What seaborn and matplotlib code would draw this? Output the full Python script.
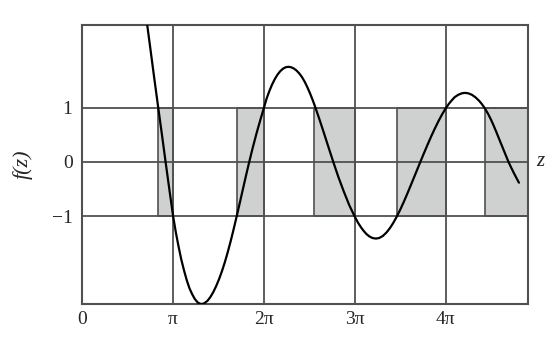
import matplotlib
matplotlib.use("Agg")
import matplotlib.pyplot as plt
import seaborn as sns
import pandas as pd

# curve: z in units of pi, f(z)
z_over_pi = [0.715, 0.75, 0.79, 0.836, 0.877, 0.917, 0.958, 1.000, 1.03, 1.06,
             1.09, 1.12, 1.15, 1.18, 1.21, 1.24, 1.27, 1.295, 1.314, 1.34,
             1.378, 1.41, 1.442, 1.474, 1.506, 1.538, 1.570, 1.60, 1.635, 1.665,
             1.70, 1.735, 1.77, 1.80, 1.835, 1.875, 1.92, 1.96, 2.00, 2.03,
             2.06, 2.09, 2.12, 2.15, 2.18, 2.21, 2.24, 2.268, 2.30, 2.33,
             2.36, 2.39, 2.42, 2.452, 2.48, 2.506, 2.533, 2.56, 2.61, 2.66,
             2.71, 2.763, 2.82, 2.88, 2.94, 3.00, 3.038, 3.07, 3.10, 3.13,
             3.16, 3.195, 3.233, 3.27, 3.31, 3.35, 3.388, 3.425, 3.461, 3.50,
             3.54, 3.58, 3.626, 3.67, 3.718, 3.76, 3.80, 3.847, 3.88, 3.92,
             3.96, 4.00, 4.035, 4.067, 4.10, 4.14, 4.18, 4.214, 4.25, 4.29,
             4.33, 4.371, 4.40, 4.434, 4.47, 4.50, 4.53, 4.56, 4.60, 4.64,
             4.69, 4.72, 4.75, 4.78, 4.808]
f_values = [2.52, 2.08, 1.57, 1.00, 0.50, 0.00, -0.50, -1.00, -1.30, -1.56,
            -1.80, -2.00, -2.18, -2.33, -2.44, -2.53, -2.59, -2.615, -2.62, -2.61,
            -2.562, -2.493, -2.402, -2.291, -2.162, -2.015, -1.848, -1.675, -1.455, -1.252,
            -1.005, -0.751, -0.494, -0.274, -0.025, 0.247, 0.533, 0.768, 0.995, 1.167,
            1.304, 1.424, 1.524, 1.607, 1.670, 1.715, 1.742, 1.750, 1.742, 1.718,
            1.680, 1.626, 1.558, 1.465, 1.367, 1.268, 1.155, 1.032, 0.789, 0.534,
            0.274, 0.001, -0.281, -0.550, -0.800, -1.010, -1.128, -1.210, -1.277, -1.333,
            -1.374, -1.404, -1.415, -1.404, -1.366, -1.302, -1.220, -1.124, -1.016, -0.885,
            -0.739, -0.583, -0.397, -0.217, -0.020, 0.150, 0.308, 0.487, 0.606, 0.742,
            0.868, 0.980, 1.065, 1.130, 1.190, 1.235, 1.262, 1.270, 1.262, 1.234,
            1.187, 1.121, 1.063, 0.981, 0.878, 0.778, 0.665, 0.545, 0.379, 0.215,
            0.010, -0.098, -0.200, -0.297, -0.385]

# allowed bands (shaded), z in units of pi
band_start = [0.836, 1.70, 2.55, 3.46, 4.43]
band_end = [1.0, 2.0, 3.0, 4.0, 4.91]

x_ticks = [0, 1, 2, 3, 4]
x_tick_labels = ["0", "π", "2π", "3π", "4π"]
y_ticks = [-1, 0, 1]
y_tick_labels = ["\u22121", "0", "1"]

sns.set_style("white")
plt.rcParams["font.family"] = ["Liberation Serif", "DejaVu Serif"]

fig = plt.figure(figsize=(5.56, 3.38), dpi=100)
ax = fig.add_axes([0.148, 0.1006, 0.802, 0.8254])

gridc = "#505050"
for s, e in zip(band_start, band_end):
    ax.fill_between([s, e], -1, 1, facecolor="#cfd1d1", edgecolor=gridc,
                    linewidth=1.2, zorder=1)

for xv in x_ticks[1:]:
    ax.axvline(xv, color=gridc, lw=1.3, zorder=2)
for yv in y_ticks:
    ax.axhline(yv, color=gridc, lw=1.3, zorder=2)

df = pd.DataFrame({"z": z_over_pi, "f": f_values})
sns.lineplot(data=df, x="z", y="f", ax=ax, color="black", lw=1.6,
             sort=False, estimator=None, zorder=3)

ax.set_xlim(0, 4.91)
ax.set_ylim(-2.62, 2.52)
ax.set_xticks(x_ticks)
ax.set_xticklabels(x_tick_labels, fontsize=14)
ax.set_yticks(y_ticks)
ax.set_yticklabels(y_tick_labels, fontsize=14)
ax.tick_params(axis="x", length=0, pad=5)
ax.tick_params(axis="y", length=4, width=1.3, color=gridc, pad=3, direction="out")
ax.set_xlabel("")
ax.set_ylabel("")
for sp in ax.spines.values():
    sp.set_color(gridc)
    sp.set_linewidth(1.5)
    sp.set_visible(True)

fig.text(23 / 556, 1 - 164 / 338, "f(z)", rotation=90, fontsize=16,
         fontstyle="italic", ha="center", va="center")
fig.text(540 / 556, 1 - 161 / 338, "z", fontsize=15, fontstyle="italic",
         ha="center", va="center")

fig.savefig("out.png", dpi=100, facecolor="white")
